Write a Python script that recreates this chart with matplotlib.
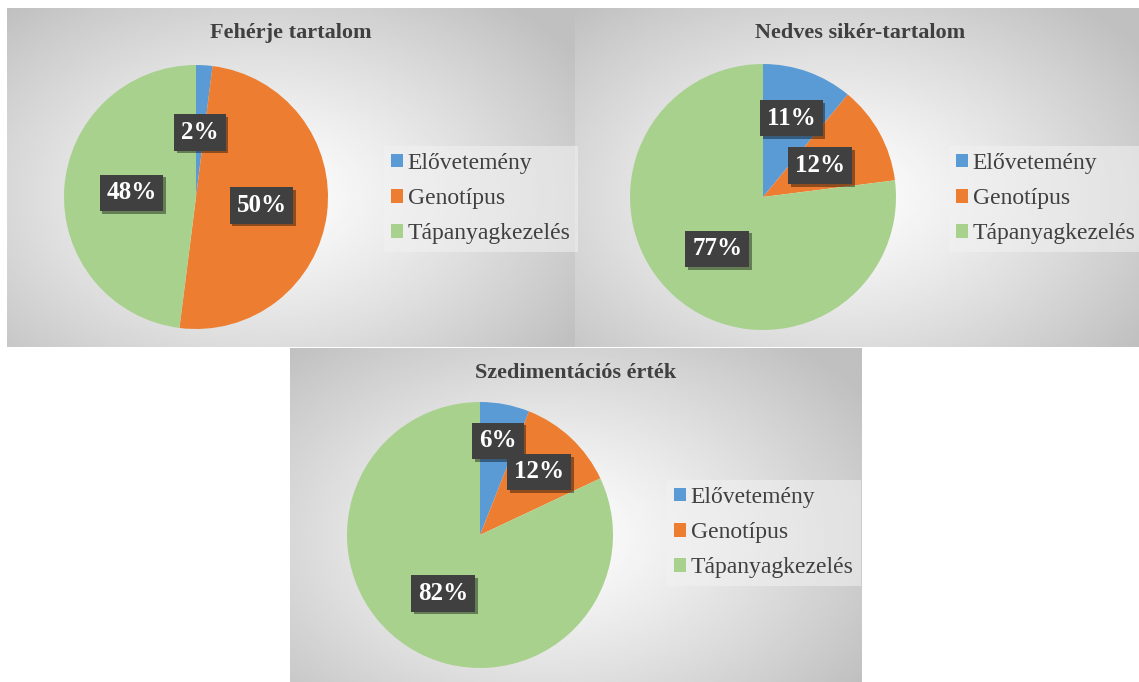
import numpy as np
import matplotlib.pyplot as plt
import matplotlib.patheffects as pe

W, H = 1139, 682

categories = ['Elővetemény', 'Genotípus', 'Tápanyagkezelés']
colors = ['#5B9BD5', '#ED7D31', '#A9D18E']

titles = ['Fehérje tartalom', 'Nedves sikér-tartalom', 'Szedimentációs érték']
feherje = [2, 50, 48]
nedves = [11, 12, 77]
szedim = [6, 12, 82]
values = [feherje, nedves, szedim]

# panel boxes in pixels (x0, y0, x1, y1), pie centre/radius, legend anchor
panels = [(7, 8, 575, 347), (575, 8, 1145, 347), (290, 348, 862, 690)]
pies = [(196, 197, 132), (763, 197, 133), (480, 535, 133)]
legend_pos = [(384, 146), (949, 146), (667, 480)]
label_dist = [[0.49, 0.5, 0.49], [0.63, 0.49, 0.52], [0.72, 0.65, 0.52]]

plt.rcParams['font.family'] = ['Liberation Serif', 'DejaVu Serif']

fig = plt.figure(figsize=(W / 100, H / 100), dpi=100)
fig.patch.set_facecolor('white')


def fx(x):
    return x / W


def fy(y):
    return 1 - y / H


# radial grey backgrounds
for (x0, y0, x1, y1) in panels:
    ax = fig.add_axes([fx(x0), fy(y1), fx(x1 - x0), (y1 - y0) / H])
    ax.set_axis_off()
    xx, yy = np.meshgrid(np.linspace(-1, 1, 300), np.linspace(-1, 1, 200))
    d = np.sqrt((xx + 0.1) ** 2 + ((yy - 0.1) * 0.9) ** 2) / 1.35
    d = np.clip(d, 0, 1)
    shade = 1.0 - 0.25 * d ** 1.2
    ax.imshow(shade, cmap='gray', vmin=0, vmax=1, aspect='auto',
              extent=[0, 1, 0, 1], interpolation='bilinear')
    ax.set_xlim(0, 1)
    ax.set_ylim(0, 1)

for i in range(3):
    x0, y0, x1, y1 = panels[i]
    cx, cy, r = pies[i]
    ax = fig.add_axes([fx(cx - r), fy(cy + r), 2 * r / W, 2 * r / H])
    ax.set_axis_off()
    wedges, _ = ax.pie(values[i], colors=colors, startangle=90, counterclock=False,
                       radius=1, wedgeprops=dict(linewidth=0))
    ax.set_xlim(-1, 1)
    ax.set_ylim(-1, 1)

    for j, w in enumerate(wedges):
        ang = np.deg2rad((w.theta1 + w.theta2) / 2)
        dist = label_dist[i][j]
        t = ax.text(dist * np.cos(ang), dist * np.sin(ang), f'{values[i][j]}%',
                    ha='center', va='center', color='white', fontsize=18,
                    fontweight='bold',
                    bbox=dict(boxstyle='square,pad=0.27', facecolor='#404040',
                              edgecolor='none'))
        t.get_bbox_patch().set_path_effects(
            [pe.withSimplePatchShadow(offset=(2, -2), shadow_rgbFace='black', alpha=0.4)])

    # title
    fig.text(fx((x0 + x1) / 2), fy(y0 + 25), titles[i], ha='center', va='center',
             fontsize=16, fontweight='bold', color='#404040')

    # legend
    lx, ly = legend_pos[i]
    leg = fig.legend(wedges, categories, loc='upper left',
                     bbox_to_anchor=(fx(lx), fy(ly)), frameon=True, fontsize=17,
                     handlelength=0.5, handleheight=0.5, handletextpad=0.2,
                     labelspacing=0.6, borderpad=0.3, borderaxespad=0,
                     fancybox=False, labelcolor='#404040')
    leg.get_frame().set_facecolor('#f2f2f2')
    leg.get_frame().set_alpha(0.55)
    leg.get_frame().set_edgecolor('none')

fig.savefig('out.png', dpi=100)
